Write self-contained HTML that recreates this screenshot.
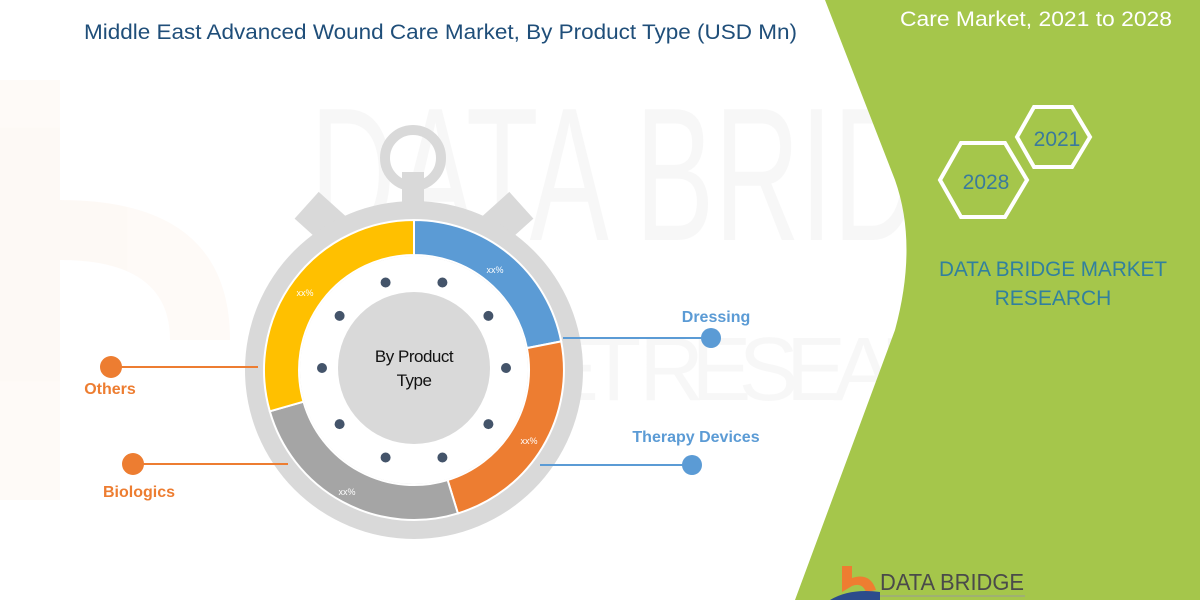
<!DOCTYPE html>
<html><head><meta charset="utf-8"><style>
html,body{margin:0;padding:0;background:#fff;}
svg{display:block;font-family:"Liberation Sans",sans-serif;}
</style></head><body>
<svg width="1200" height="600" viewBox="0 0 1200 600" xmlns="http://www.w3.org/2000/svg">
<rect width="1200" height="600" fill="#fff"/>
<!-- faint watermark -->
<g opacity="0.04" fill="#555">
<text x="310" y="240" font-size="190" textLength="780" lengthAdjust="spacingAndGlyphs">DATA BRIDGE</text>
<text x="330" y="400" font-size="90" textLength="760" lengthAdjust="spacing" letter-spacing="40">MARKET RESEARCH</text>
</g>
<g opacity="0.04" fill="#e0782a"><rect x="0" y="80" width="60" height="420"/><path d="M60 200 Q230 200 230 340 L170 340 Q170 260 60 260Z"/></g>
<!-- green panel -->
<path d="M825 0 L1200 0 L1200 600 L795 600 L895 330 Q918 245 895 180 Z" fill="#a5c64b"/>
<!-- title -->
<text x="84" y="39" font-size="21" fill="#1f4e79" textLength="713" lengthAdjust="spacingAndGlyphs">Middle East Advanced Wound Care Market, By Product Type (USD Mn)</text>
<text x="900" y="26" font-size="21" fill="#fff" textLength="272" lengthAdjust="spacingAndGlyphs">Care Market, 2021 to 2028</text>
<!-- hexagons -->
<polygon points="940,180 961,143 1005,143 1027,180 1005,217 961,217" fill="none" stroke="#fff" stroke-width="4"/>
<polygon points="1017,137 1034,107 1072,107 1090,137 1072,167 1034,167" fill="none" stroke="#fff" stroke-width="4"/>
<text x="986" y="189" font-size="21" fill="#3a7a9c" text-anchor="middle">2028</text>
<text x="1057" y="146" font-size="21" fill="#3a7a9c" text-anchor="middle">2021</text>
<text x="1053" y="276" font-size="21" fill="#31809e" text-anchor="middle" textLength="228" lengthAdjust="spacingAndGlyphs">DATA BRIDGE MARKET</text>
<text x="1053" y="305" font-size="21" fill="#31809e" text-anchor="middle">RESEARCH</text>
<!-- bottom logo -->
<path d="M842 566 L852 566 L852 578 Q870 572 876 590 L866 592 Q862 582 852 586 L842 592Z" fill="#ee7d31"/>
<path d="M830 600 Q850 588 880 592 L880 600Z" fill="#2c4c8c"/>
<text x="880" y="590" font-size="23" fill="#4a4a4a" textLength="144" lengthAdjust="spacingAndGlyphs">DATA BRIDGE</text>
<line x1="880" y1="596" x2="1025" y2="596" stroke="#999" stroke-width="1"/>
<!-- stopwatch -->
<g fill="#d9d9d9">
<circle cx="413" cy="158" r="28" fill="none" stroke="#d9d9d9" stroke-width="10"/>
<rect x="402" y="172" width="22" height="50"/>
<rect x="305" y="198" width="36" height="45" transform="rotate(-48 323 220)"/>
<rect x="487" y="198" width="36" height="45" transform="rotate(48 505 220)"/>
<circle cx="414" cy="370" r="169"/>
</g>
<path d="M414 220 A150 150 0 0 1 561.2 341.4 L526.9 348.1 A115 115 0 0 0 414 255Z" fill="#5b9bd5" stroke="#fff" stroke-width="2"/>
<path d="M561.2 341.4 A150 150 0 0 1 457.9 513.4 L447.6 480 A115 115 0 0 0 526.9 348.1Z" fill="#ed7d31" stroke="#fff" stroke-width="2"/>
<path d="M457.9 513.4 A150 150 0 0 1 269.8 411.3 L303.5 401.7 A115 115 0 0 0 447.6 480Z" fill="#a5a5a5" stroke="#fff" stroke-width="2"/>
<path d="M269.8 411.3 A150 150 0 0 1 414 220 L414 255 A115 115 0 0 0 303.5 401.7Z" fill="#ffc000" stroke="#fff" stroke-width="2"/>
<circle cx="414" cy="370" r="114" fill="#fff"/>
<circle cx="414" cy="368" r="76" fill="#d9d9d9"/>
<g fill="#44546a">
<circle cx="442.4" cy="282.5" r="5"/><circle cx="488.4" cy="315.9" r="5"/><circle cx="506" cy="368" r="5"/><circle cx="488.4" cy="424.1" r="5"/><circle cx="442.4" cy="457.5" r="5"/>
<circle cx="385.6" cy="282.5" r="5"/><circle cx="339.6" cy="315.9" r="5"/><circle cx="322" cy="368" r="5"/><circle cx="339.6" cy="424.1" r="5"/><circle cx="385.6" cy="457.5" r="5"/>
</g>
<text x="414" y="362" font-size="17" fill="#111" text-anchor="middle" letter-spacing="-0.5">By Product</text>
<text x="414" y="386" font-size="17" fill="#111" text-anchor="middle" letter-spacing="-0.5">Type</text>
<g font-size="9" fill="#fff" text-anchor="middle">
<text x="495" y="273">xx%</text><text x="305" y="296">xx%</text><text x="529" y="444">xx%</text><text x="347" y="495">xx%</text>
</g>
<!-- connectors -->
<line x1="563" y1="338" x2="710" y2="338" stroke="#5b9bd5" stroke-width="2"/>
<circle cx="711" cy="338" r="10" fill="#5b9bd5"/>
<text x="716" y="322" font-size="16" font-weight="bold" fill="#5b9bd5" text-anchor="middle">Dressing</text>
<line x1="540" y1="465" x2="692" y2="465" stroke="#5b9bd5" stroke-width="2"/>
<circle cx="692" cy="465" r="10" fill="#5b9bd5"/>
<text x="696" y="442" font-size="16" font-weight="bold" fill="#5b9bd5" text-anchor="middle">Therapy  Devices</text>
<line x1="111" y1="367" x2="258" y2="367" stroke="#ed7d31" stroke-width="2"/>
<circle cx="111" cy="367" r="11" fill="#ed7d31"/>
<text x="110" y="394" font-size="16" font-weight="bold" fill="#ed7d31" text-anchor="middle">Others</text>
<line x1="133" y1="464" x2="288" y2="464" stroke="#ed7d31" stroke-width="2"/>
<circle cx="133" cy="464" r="11" fill="#ed7d31"/>
<text x="139" y="497" font-size="16" font-weight="bold" fill="#ed7d31" text-anchor="middle">Biologics</text>
</svg>
</body></html>
